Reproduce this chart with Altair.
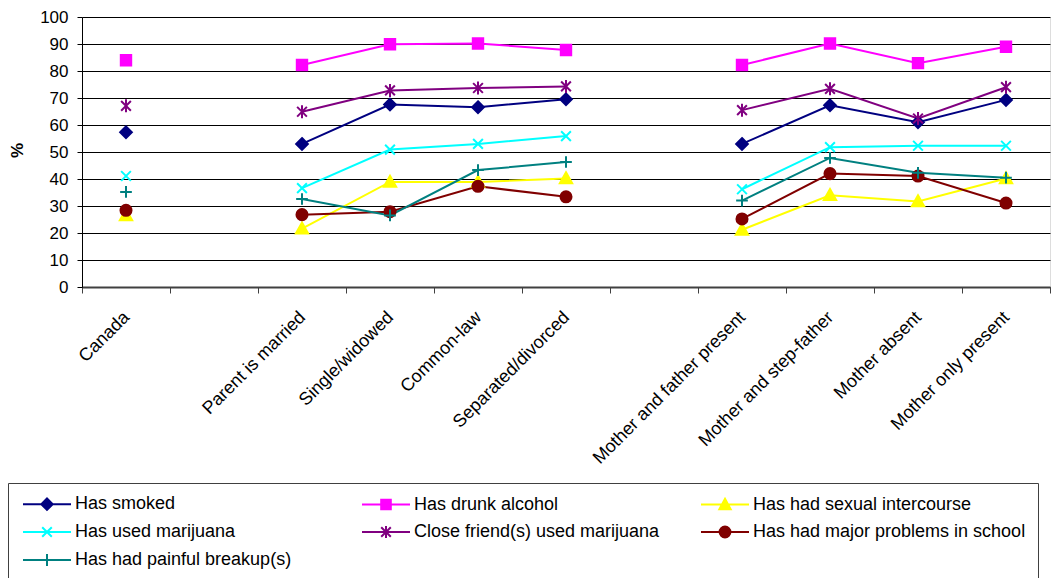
import altair as alt
import pandas as pd

categories = ["Canada", " ", "Parent is married", "Single/widowed", "Common-law",
              "Separated/divorced", "  ", "Mother and father present",
              "Mother and step-father", "Mother absent", "Mother only present"]
groups = ["Canada", "gap1", "Marital", "Marital", "Marital", "Marital", "gap2",
          "Family", "Family", "Family", "Family"]

series = ["Has smoked", "Has drunk alcohol", "Has had sexual intercourse",
          "Has used marijuana", "Close friend(s) used marijuana",
          "Has had major problems in school", "Has had painful breakup(s)"]
colors = ["#000080", "#FF00FF", "#FFFF00", "#00FFFF", "#800080", "#800000", "#008080"]

smoked    = [57.3, None, 53.0, 67.6, 66.6, 69.5, None, 53.0, 67.3, 61.0, 69.3]
alcohol   = [84.0, None, 82.2, 89.9, 90.2, 87.8, None, 82.2, 90.2, 82.9, 89.0]
sex       = [26.5, None, 21.6, 38.9, 38.9, 40.2, None, 21.2, 34.0, 31.7, 40.2]
marijuana = [41.1, None, 36.6, 50.9, 53.0, 55.9, None, 36.2, 51.8, 52.3, 52.3]
friends   = [67.1, None, 64.9, 72.8, 73.7, 74.3, None, 65.5, 73.4, 62.4, 74.0]
school    = [28.4, None, 26.8, 27.9, 37.3, 33.4, None, 25.2, 42.0, 41.1, 31.1]
breakup   = [35.2, None, 32.6, 26.5, 43.3, 46.3, None, 32.0, 47.8, 42.3, 40.5]
all_values = [smoked, alcohol, sex, marijuana, friends, school, breakup]

y_ticks = list(range(0, 101, 10))

# marker shapes (unit box -1..1)
marker_paths = [
    "M0,-0.9L0.9,0L0,0.9L-0.9,0Z",
    "M-0.8,-0.8L0.8,-0.8L0.8,0.8L-0.8,0.8Z",
    "M0,-0.95L0.95,0.75L-0.95,0.75Z",
    "M-0.75,-0.75L0.75,0.75M-0.75,0.75L0.75,-0.75",
    "M-0.75,-0.75L0.75,0.75M-0.75,0.75L0.75,-0.75M0,-1L0,1",
    "M0.85,0A0.85,0.85,0,1,1,-0.85,0A0.85,0.85,0,1,1,0.85,0Z",
    "M-0.9,0L0.9,0M0,-0.9L0,0.9",
]
# legend swatches: a line with the marker on it (unit = 6px, line extends right)
legend_paths = [
    "M-1,0L7,0M3,-0.95L3.95,0L3,0.95L2.05,0Z",
    "M-1,0L7,0M2.2,-0.8L3.8,-0.8L3.8,0.8L2.2,0.8Z",
    "M-1,0L7,0M3,-0.95L3.95,0.8L2.05,0.8Z",
    "M-1,0L7,0M2.2,-0.8L3.8,0.8M2.2,0.8L3.8,-0.8",
    "M-1,0L7,0M2.2,-0.8L3.8,0.8M2.2,0.8L3.8,-0.8M3,-1L3,1",
    "M-1,0L7,0M3.9,0A0.9,0.9,0,1,1,2.1,0A0.9,0.9,0,1,1,3.9,0Z",
    "M-1,0L7,0M3,-1L3,1",
]

rows = []
for s, vals in zip(series, all_values):
    for c, g, v in zip(categories, groups, vals):
        if v is not None:
            rows.append({"series": s, "category": c, "grp": g, "value": v})
df = pd.DataFrame(rows)

FONT = "Liberation Sans"

x_enc = alt.X(
    "category:N", sort=categories,
    scale=alt.Scale(type="band", domain=categories, paddingInner=0, paddingOuter=0),
    axis=alt.Axis(title=None, labelAngle=-45, labelAlign="right", labelBaseline="top",
                  labelFontSize=18, labelFont=FONT, labelColor="black", labelLimit=400,
                  tickBand="extent", tickSize=6, tickColor="#404040", grid=False,
                  domainColor="#404040", domainWidth=2, labelPadding=15, labelOffset=-6),
)
y_enc = alt.Y(
    "value:Q",
    scale=alt.Scale(domain=[0, 100], nice=False),
    axis=alt.Axis(title="%", values=y_ticks, grid=True, gridColor="black", gridOpacity=1,
                  tickSize=5, tickColor="black", domainColor="black",
                  labelFontSize=17, labelFont=FONT, labelColor="black", labelPadding=9,
                  titleFont=FONT, titleFontSize=17, titleFontWeight="bold", titleColor="black",
                  titleAngle=-90, titleX=-65, titleY=133, titleAlign="center",
                  titleBaseline="middle"),
)

base = alt.Chart(df)

lines = base.mark_line(strokeWidth=2).encode(
    x=x_enc, y=y_enc,
    color=alt.Color("series:N", scale=alt.Scale(domain=series, range=colors), legend=None),
    detail="grp:N",
)

points = base.mark_point(filled=True, size=169, strokeWidth=2, opacity=1).encode(
    x=x_enc, y=y_enc,
    fill=alt.Fill("series:N", scale=alt.Scale(domain=series, range=colors), legend=None),
    stroke=alt.Stroke("series:N", scale=alt.Scale(domain=series, range=colors), legend=None),
    shape=alt.Shape("series:N", scale=alt.Scale(domain=series, range=marker_paths), legend=None),
)

legend_spec = alt.Legend(
    title=None, orient="none", legendX=-74, legendY=466, columns=3, direction="horizontal",
    gridAlign="all", symbolSize=144, symbolStrokeWidth=2, labelFont=FONT, labelFontSize=18,
    labelColor="black", labelOffset=37, labelLimit=500, columnPadding=10, rowPadding=8,
    padding=12, strokeColor="#404040", fillColor="white",
)
legend_layer = base.transform_filter("false").mark_point(filled=True, opacity=1).encode(
    x=x_enc, y=y_enc,
    fill=alt.Fill("series:N", scale=alt.Scale(domain=series, range=colors), legend=legend_spec),
    stroke=alt.Stroke("series:N", scale=alt.Scale(domain=series, range=colors), legend=legend_spec),
    shape=alt.Shape("series:N", scale=alt.Scale(domain=series, range=legend_paths), legend=legend_spec),
)

chart = alt.layer(lines, points, legend_layer).resolve_scale(
    shape="independent", fill="independent", stroke="independent"
).properties(
    width=968, height=270,
    autosize=alt.AutoSizeParams(type="none"),
    padding={"left": 74, "top": 9, "right": 2, "bottom": 291},
).configure_view(
    fill="#C0C0C0", stroke="#808080", strokeWidth=1
).configure(background="white")

chart.save("out.html", embed_options={"renderer": "svg", "actions": False})
